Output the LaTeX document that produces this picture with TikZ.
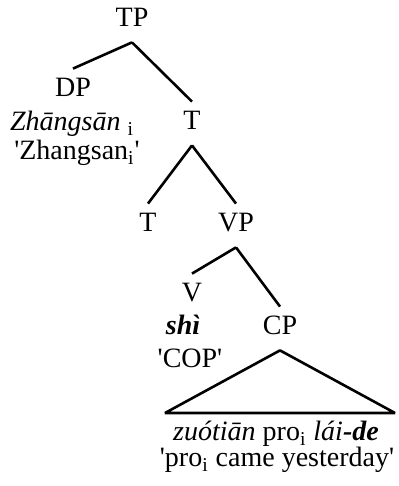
\documentclass[tikz,border=0pt]{standalone}
\usepackage{fontspec}
\setmainfont{Liberation Serif}
\newcommand{\sq}{\textquotesingle}

\begin{document}
\begin{tikzpicture}[x=10pt,y=10pt,
    cat/.style={anchor=base,inner xsep=1pt,inner ysep=4pt,text height=10pt,text depth=3.5pt},
    word/.style={anchor=base,inner sep=0pt},
    branch/.style={line width=1.3pt}]
\fontsize{14}{16.8}\selectfont
%\draw[step=1,gray,very thin] (0,0) grid (20,24); %background grid
\useasboundingbox (0,0) rectangle (19.9,24.3);

\node[cat] (tp) at (6.6,22.95) {TP};
\node[cat] (dp) at (3.65,19.45) {DP};
\node[word] (zs) at (3.6,17.75) {\textit{Zhāngsān} \textsubscript{i}};
\node[word] (zsgl) at (3.85,16.3) {\sq Zhangsan\textsubscript{i}\sq};
\node[cat] (tbar) at (9.6,17.8) {T};

\node[cat] (t) at (7.4,12.7) {T};
\node[cat] (vp) at (11.8,12.7) {VP};

\node[cat] (v) at (9.6,9.2) {V};
\node[word] (shi) at (9.15,7.55) {\textbf{\textit{shì}}};
\node[word] (cop) at (9.5,5.9) {\sq COP\sq};
\node[cat] (cp) at (14,7.55) {CP};

\coordinate (cpl) at (8.25,3.65);
\coordinate (cpr) at (19.75,3.65);
\node[word] (cpw) at (13.8,2.25) {\textit{zuótiān} pro\textsubscript{i} \textit{lái}\textbf{\textit{-de}}};
\node[word] (cpgl) at (13.85,0.95) {\sq pro\textsubscript{i} came yesterday\sq};

\draw[branch] (tp.south)--(dp.north);
\draw[branch] (tp.south)--(tbar.north);
\draw[branch] (tbar.south)--(t.north);
\draw[branch] (tbar.south)--(vp.north);
\draw[branch] (vp.south)--(v.north);
\draw[branch] (vp.south)--(cp.north);
\draw[branch,line join=bevel] (cp.south)--(cpl)--(cpr)--cycle;

\end{tikzpicture}
\end{document}
